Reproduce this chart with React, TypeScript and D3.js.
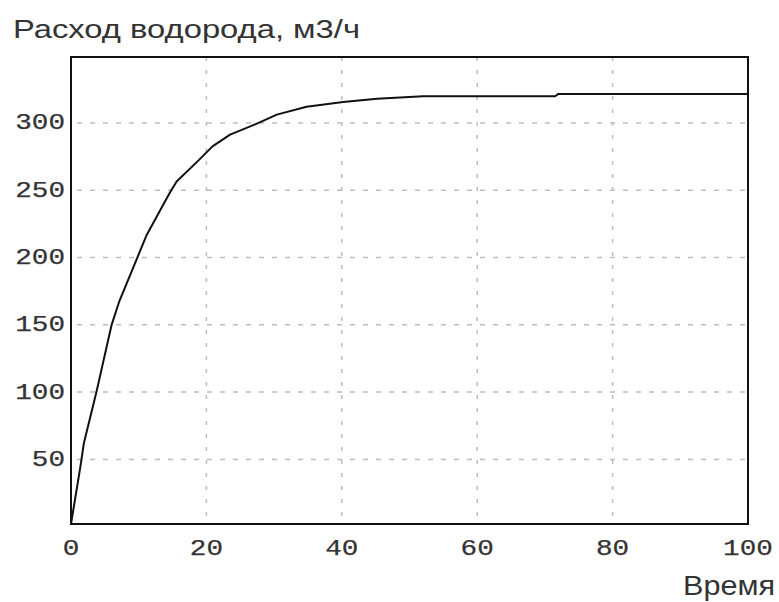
import React from "react";
import * as d3 from "d3";

const timeValues = [0, 1.4, 1.9, 3.8, 6.0, 7.1, 9.8, 11.2, 13.6, 14.7, 15.6, 18.8, 20.9, 23.5, 27.7, 30.4, 34.8, 40.2, 45.2, 52, 71.5, 72, 100];
const flowValues = [2, 45, 62, 101, 150, 167, 200, 217, 239, 249, 256.5, 272, 282.6, 291.3, 300, 306.2, 312, 315.5, 318, 319.8, 319.8, 321.6, 321.6];
const xTicks = [0, 20, 40, 60, 80, 100];
const yTicks = [50, 100, 150, 200, 250, 300];
const titleText = "Расход водорода, м3/ч";
const xLabelText = "Время";

const W = 779;
const H = 602;
const left = 71;
const right = 748;
const top = 57;
const bottom = 524;

export default function App() {
  const x = d3.scaleLinear().domain([0, 100]).range([left, right]);
  const y = d3.scaleLinear().domain([2, 349]).range([bottom, top]);
  const line = d3
    .line<number>()
    .x((_, i) => x(timeValues[i]))
    .y((d) => y(d))
    .curve(d3.curveLinear);

  const tickFont = "'Liberation Mono', 'DejaVu Sans Mono', monospace";
  const labelFont = "'Liberation Sans', Arial, sans-serif";
  const charW = 16.6;

  return (
    <svg
      width={W}
      height={H}
      style={{ position: "absolute", left: 0, top: 0, background: "#fff" }}
    >
      <rect x={0} y={0} width={W} height={H} fill="#fff" />
      {xTicks
        .filter((t) => t > 0 && t < 100)
        .map((t) => (
          <line
            key={"gx" + t}
            x1={x(t)}
            x2={x(t)}
            y1={top}
            y2={bottom}
            stroke="#bdbdbd"
            strokeWidth={1.5}
            strokeDasharray="4 9"
          />
        ))}
      {yTicks.map((t) => (
        <line
          key={"gy" + t}
          x1={left}
          x2={right}
          y1={y(t)}
          y2={y(t)}
          stroke="#bdbdbd"
          strokeWidth={1.5}
          strokeDasharray="5 8"
          strokeDashoffset={-6}
        />
      ))}
      <path
        d={line(flowValues) || ""}
        fill="none"
        stroke="#111"
        strokeWidth={2}
        strokeLinejoin="round"
      />
      <rect
        x={left}
        y={top}
        width={right - left}
        height={bottom - top}
        fill="none"
        stroke="#111"
        strokeWidth={2}
      />
      {yTicks.map((t) => {
        const s = String(t);
        return (
          <text
            key={"ly" + t}
            x={65}
            y={y(t) + 6.5}
            textAnchor="end"
            fontFamily={tickFont}
            fontSize={22}
            fill="#333"
            stroke="#333"
            strokeWidth={0.25}
            textLength={s.length * charW}
            lengthAdjust="spacingAndGlyphs"
          >
            {s}
          </text>
        );
      })}
      {xTicks.map((t) => {
        const s = String(t);
        return (
          <text
            key={"lx" + t}
            x={x(t)}
            y={555}
            textAnchor="middle"
            fontFamily={tickFont}
            fontSize={22}
            fill="#333"
            stroke="#333"
            strokeWidth={0.25}
            textLength={s.length * charW}
            lengthAdjust="spacingAndGlyphs"
          >
            {s}
          </text>
        );
      })}
      <text
        x={13}
        y={38}
        fontFamily={labelFont}
        fontSize={26}
        fill="#333"
        textLength={347}
        lengthAdjust="spacingAndGlyphs"
      >
        {titleText}
      </text>
      <text
        x={775}
        y={595}
        textAnchor="end"
        fontFamily={labelFont}
        fontSize={27}
        fill="#333"
        textLength={92}
        lengthAdjust="spacingAndGlyphs"
      >
        {xLabelText}
      </text>
    </svg>
  );
}
